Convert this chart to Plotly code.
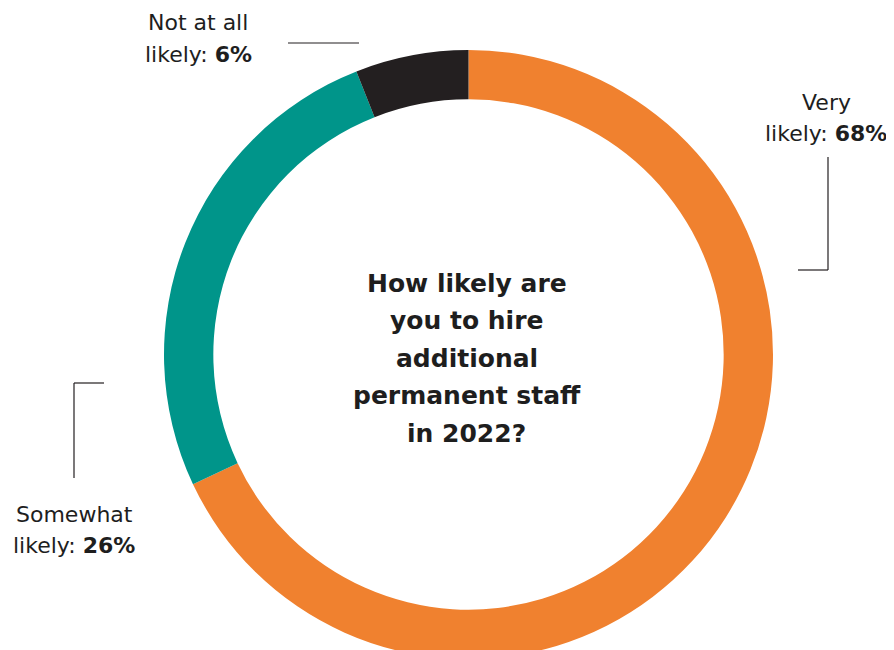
import plotly.graph_objects as go

categories = ["Very likely", "Somewhat likely", "Not at all likely"]
values = [68, 26, 6]
colors = ["#F0812F", "#00958A", "#231F20"]
center_lines = ["How likely are", "you to hire", "additional", "permanent staff", "in 2022?"]

# page body has an 8px margin; figure extends slightly past the window bottom
OFF = 8
FW, FH = 886, 660
FONT = "DejaVu Sans"
TXT = "#1E1E1E"

def px(x):
    return (x - OFF) / FW

def py(y):
    return 1 - (y - OFF) / FH

CX, CY, R = 468.5, 354.5, 304.5

fig = go.Figure()
fig.add_trace(go.Pie(
    labels=categories,
    values=values,
    marker=dict(colors=colors, line=dict(width=0)),
    hole=0.838,
    sort=False,
    direction="clockwise",
    rotation=0,
    textinfo="none",
    hoverinfo="label+percent",
    showlegend=False,
    domain=dict(x=[px(CX - R), px(CX + R)], y=[py(CY + R), py(CY - R)]),
))

annotations = []
for i, line in enumerate(center_lines):
    annotations.append(dict(
        x=px(467), y=py(283 + i * 37.6), xref="paper", yref="paper",
        text=f"<b>{line}</b>", showarrow=False, xanchor="center", yanchor="middle",
        font=dict(family=FONT, size=25, color=TXT),
    ))

side_labels = [
    (values[0], 826, 102, ["Very", "likely: "]),
    (values[2], 198, 23, ["Not at all", "likely: "]),
    (values[1], 74, 514, ["Somewhat", "likely: "]),
]
for v, cx, cy, parts in side_labels:
    annotations.append(dict(
        x=px(cx), y=py(cy), xref="paper", yref="paper", text=parts[0],
        showarrow=False, xanchor="center", yanchor="middle",
        font=dict(family=FONT, size=22, color=TXT),
    ))
    annotations.append(dict(
        x=px(cx), y=py(cy + 31), xref="paper", yref="paper",
        text=f"{parts[1]}<b>{v}%</b>",
        showarrow=False, xanchor="center", yanchor="middle",
        font=dict(family=FONT, size=22, color=TXT),
    ))

line_style = dict(color="#231F20", width=1.2)
def seg(x0, y0, x1, y1):
    return dict(type="line", xref="paper", yref="paper",
                x0=px(x0), x1=px(x1), y0=py(y0), y1=py(y1), line=line_style)

shapes = [
    seg(288, 43, 359, 43),
    seg(828, 157, 828, 270),
    seg(798, 270, 828, 270),
    seg(74, 383, 74, 478),
    seg(74, 383, 104, 383),
]

fig.update_layout(
    width=FW, height=FH,
    margin=dict(l=0, r=0, t=0, b=0),
    paper_bgcolor="white", plot_bgcolor="white",
    annotations=annotations, shapes=shapes,
    showlegend=False,
)

fig.write_html("out.html")
